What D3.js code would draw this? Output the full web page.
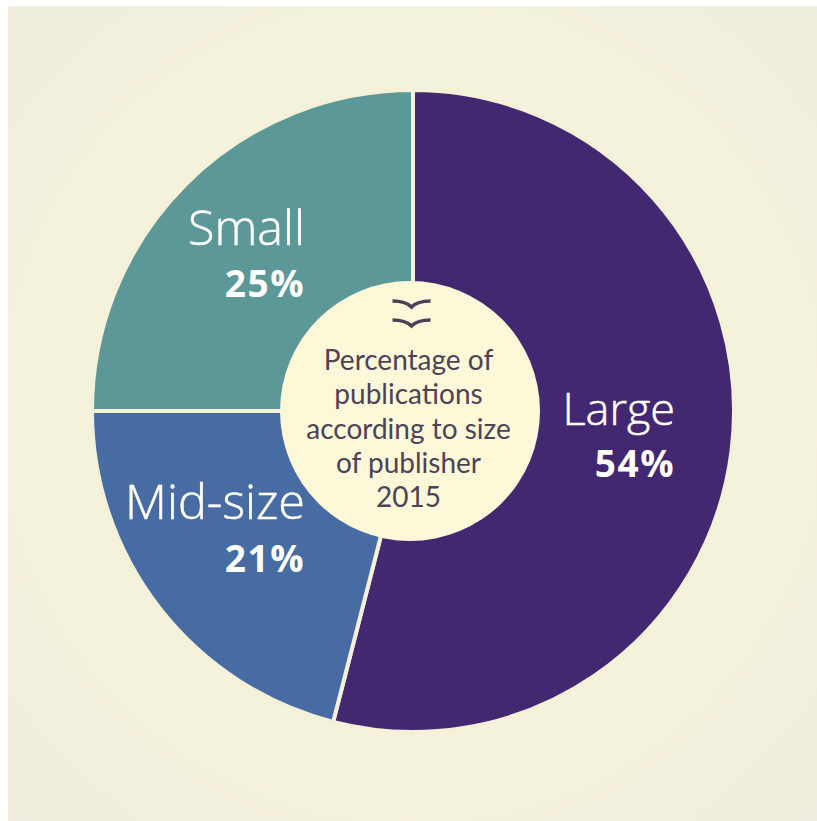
<!DOCTYPE html>
<html>
<head>
<meta charset="utf-8">
<script src="https://cdnjs.cloudflare.com/ajax/libs/d3/7.8.5/d3.min.js"></script>
<style>
html, body { margin: 0; padding: 0; background: #fff; }
svg { display: block; }
</style>
</head>
<body>
<script>
// Publications by publisher size, 2015
const categories = ["Large", "Mid-size", "Small"];
const shares = [54, 21, 25];
const sliceColors = ["#412871", "#466ca3", "#5b9897"];
const centerLines = ["Percentage of", "publications", "according to size", "of publisher", "2015"];

const width = 817, height = 821;
const cx = 413, cy = 411, outerR = 321, hubR = 130;
const labelFont = "'Open Sans', sans-serif";

const svg = d3.select("body").append("svg")
  .attr("width", width)
  .attr("height", height);

const glow = svg.append("defs").append("radialGradient")
  .attr("id", "panelGlow")
  .attr("gradientUnits", "userSpaceOnUse")
  .attr("cx", cx).attr("cy", cy).attr("r", 580);
glow.append("stop").attr("offset", "0%").attr("stop-color", "#f8f5d8");
glow.append("stop").attr("offset", "62%").attr("stop-color", "#f5f2dc");
glow.append("stop").attr("offset", "100%").attr("stop-color", "#f0ecdf");

svg.append("rect")
  .attr("x", 8).attr("y", 6)
  .attr("width", width - 8).attr("height", height - 6)
  .attr("fill", "url(#panelGlow)");

const pie = d3.pie().sort(null).value(d => d.share);
const arc = d3.arc().innerRadius(0).outerRadius(outerR);
const rows = categories.map((name, i) => ({ name, share: shares[i], color: sliceColors[i] }));

const chart = svg.append("g").attr("transform", `translate(${cx},${cy})`);

chart.selectAll("path.slice")
  .data(pie(rows))
  .join("path")
  .attr("class", "slice")
  .attr("d", arc)
  .attr("fill", d => d.data.color)
  .attr("stroke", "#f5f1d8")
  .attr("stroke-width", 4);

// Hub covers the middle of the pie and carries the caption
chart.append("circle")
  .attr("cx", -3)
  .attr("r", hubR)
  .attr("fill", "#fcf8d8");

// Right-aligned slice captions: name above, bold share below
const labelAnchors = {
  "Large": { x: 262, nameY: 14, shareY: 66, nameSize: 45 },
  "Mid-size": { x: -108, nameY: 108, shareY: 161, nameSize: 48.5 },
  "Small": { x: -108, nameY: -166, shareY: -114, nameSize: 48.5 }
};
const labels = chart.selectAll("g.slice-label")
  .data(rows)
  .join("g")
  .attr("class", "slice-label")
  .attr("text-anchor", "end")
  .attr("fill", "#fff")
  .attr("font-family", labelFont);
labels.append("text")
  .attr("x", d => labelAnchors[d.name].x)
  .attr("y", d => labelAnchors[d.name].nameY)
  .attr("font-size", d => labelAnchors[d.name].nameSize)
  .attr("font-weight", 300)
  .attr("stroke", "#fff")
  .attr("stroke-width", 0.5)
  .text(d => d.name);
labels.append("text")
  .attr("x", d => labelAnchors[d.name].x)
  .attr("y", d => labelAnchors[d.name].shareY)
  .attr("font-size", 37)
  .attr("font-weight", 700)
  .attr("letter-spacing", 1.5)
  .text(d => d.share + "%");

// Small open-book ornament above the caption
const swoosh = "M-19,-3 C-10,-3 -4,-1 0,3 C4,-1 10,-3 19,-3";
[-107, -88].forEach(y => {
  chart.append("path")
    .attr("transform", `translate(-1.5,${y})`)
    .attr("d", swoosh)
    .attr("fill", "none")
    .attr("stroke", "#4b4058")
    .attr("stroke-width", 3.5);
});

chart.append("g")
  .attr("text-anchor", "middle")
  .attr("fill", "#4d4359")
  .attr("font-family", "Lato, sans-serif")
  .attr("font-size", 28)
  .selectAll("text")
  .data(centerLines)
  .join("text")
  .attr("x", -4.5)
  .attr("y", (d, i) => -41 + i * 34.25)
  .text(d => d);
</script>
</body>
</html>
